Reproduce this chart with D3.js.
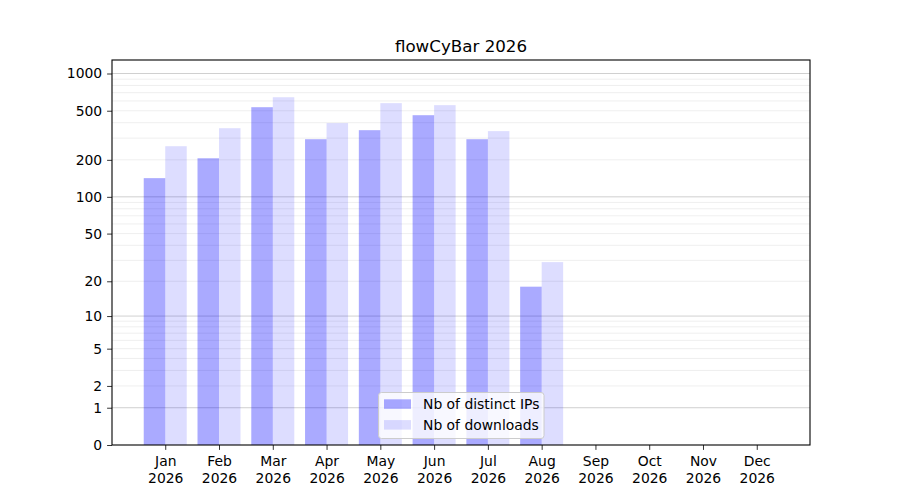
<!DOCTYPE html>
<html>
<head>
<meta charset="utf-8">
<script src="https://cdn.jsdelivr.net/npm/d3@7"></script>
<style>
  body { margin: 0; background: #fff; }
  text { font-family: "DejaVu Sans", sans-serif; }
</style>
</head>
<body>
<svg id="chart" width="900" height="500"></svg>
<script>
const months = ["Jan", "Feb", "Mar", "Apr", "May", "Jun", "Jul", "Aug", "Sep", "Oct", "Nov", "Dec"];
const yearLabel = "2026";
const distinctIPs = [142, 206, 534, 294, 348, 460, 294, 18, 0, 0, 0, 0];
const downloads = [258, 361, 643, 397, 576, 555, 342, 29, 0, 0, 0, 0];
const yTickValues = [0, 1, 2, 5, 10, 20, 50, 100, 200, 500, 1000];
const majorGrid = [1, 10, 100, 1000];
const minorGrid = [2, 3, 4, 5, 6, 7, 8, 9, 20, 30, 40, 50, 60, 70, 80, 90, 200, 300, 400, 500, 600, 700, 800, 900];
const seriesNames = ["Nb of distinct IPs", "Nb of downloads"];
const title = "flowCyBar 2026";

const svg = d3.select("#chart");
const L = 112, R = 810, T = 60, B = 445;
const barW = 0.4;

const x = d3.scaleLinear().domain([-0.99, 11.99]).range([L, R]);
const yMax = 2 * d3.max(downloads.concat(distinctIPs));
const y = d3.scaleSymlog().constant(1).domain([0, yMax]).range([B, T]);

// grid
svg.append("g").selectAll("line").data(minorGrid).join("line")
  .attr("x1", L).attr("x2", R)
  .attr("y1", d => y(d)).attr("y2", d => y(d))
  .attr("stroke", "#ebebeb").attr("stroke-width", 0.8);
svg.append("g").selectAll("line").data(majorGrid).join("line")
  .attr("x1", L).attr("x2", R)
  .attr("y1", d => y(d)).attr("y2", d => y(d))
  .attr("stroke", "#c4c4c4").attr("stroke-width", 0.8);

// bars
const idx = d3.range(months.length);
svg.append("g").selectAll("rect").data(idx).join("rect")
  .attr("x", i => x(i - barW)).attr("width", i => x(i) - x(i - barW))
  .attr("y", i => y(distinctIPs[i])).attr("height", i => y(0) - y(distinctIPs[i]))
  .attr("fill", "#0000ff").attr("fill-opacity", 0.333);
svg.append("g").selectAll("rect").data(idx).join("rect")
  .attr("x", i => x(i)).attr("width", i => x(i + barW) - x(i))
  .attr("y", i => y(downloads[i])).attr("height", i => y(0) - y(downloads[i]))
  .attr("fill", "#0000ff").attr("fill-opacity", 0.133);

// y axis
const yAxis = d3.axisLeft(y).tickValues(yTickValues).tickFormat(d3.format("d")).tickSize(4.9).tickPadding(4.9);
const gy = svg.append("g").attr("transform", `translate(${L},0)`).call(yAxis);
gy.select(".domain").remove();
gy.selectAll("text").attr("font-size", "13.9px").attr("fill", "#000");
gy.selectAll("line").attr("stroke", "#000").attr("stroke-width", 0.8);

// x axis
const xAxis = d3.axisBottom(x).tickValues(idx).tickFormat(() => "").tickSize(4.9);
const gx = svg.append("g").attr("transform", `translate(0,${B})`).call(xAxis);
gx.select(".domain").remove();
gx.selectAll("line").attr("stroke", "#000").attr("stroke-width", 0.8);
gx.selectAll(".tick").each(function(d) {
  const t = d3.select(this).append("text")
    .attr("text-anchor", "middle").attr("font-size", "13.9px").attr("fill", "#000");
  t.append("tspan").attr("x", 0).attr("y", 21).text(months[d]);
  t.append("tspan").attr("x", 0).attr("y", 37.5).text(yearLabel);
});

// frame
svg.append("rect").attr("x", L).attr("y", T).attr("width", R - L).attr("height", B - T)
  .attr("fill", "none").attr("stroke", "#000").attr("stroke-width", 1.1);

// title
svg.append("text").attr("x", (L + R) / 2).attr("y", 52)
  .attr("text-anchor", "middle").attr("font-size", "16.7px").attr("fill", "#000").text(title);

// legend
const lg = svg.append("g");
lg.append("rect").attr("x", 378.5).attr("y", 392.5).attr("width", 165.5).attr("height", 46)
  .attr("rx", 3).attr("fill", "#fff").attr("fill-opacity", 0.8)
  .attr("stroke", "#cccccc").attr("stroke-width", 1);
const legOpac = [0.333, 0.133];
seriesNames.forEach((name, i) => {
  lg.append("rect").attr("x", 384).attr("y", 399.3 + i * 20.8).attr("width", 27).attr("height", 9.5)
    .attr("fill", "#0000ff").attr("fill-opacity", legOpac[i]);
  lg.append("text").attr("x", 423).attr("y", 409 + i * 20.8)
    .attr("font-size", "13.9px").attr("fill", "#000").text(name);
});
</script>
</body>
</html>
